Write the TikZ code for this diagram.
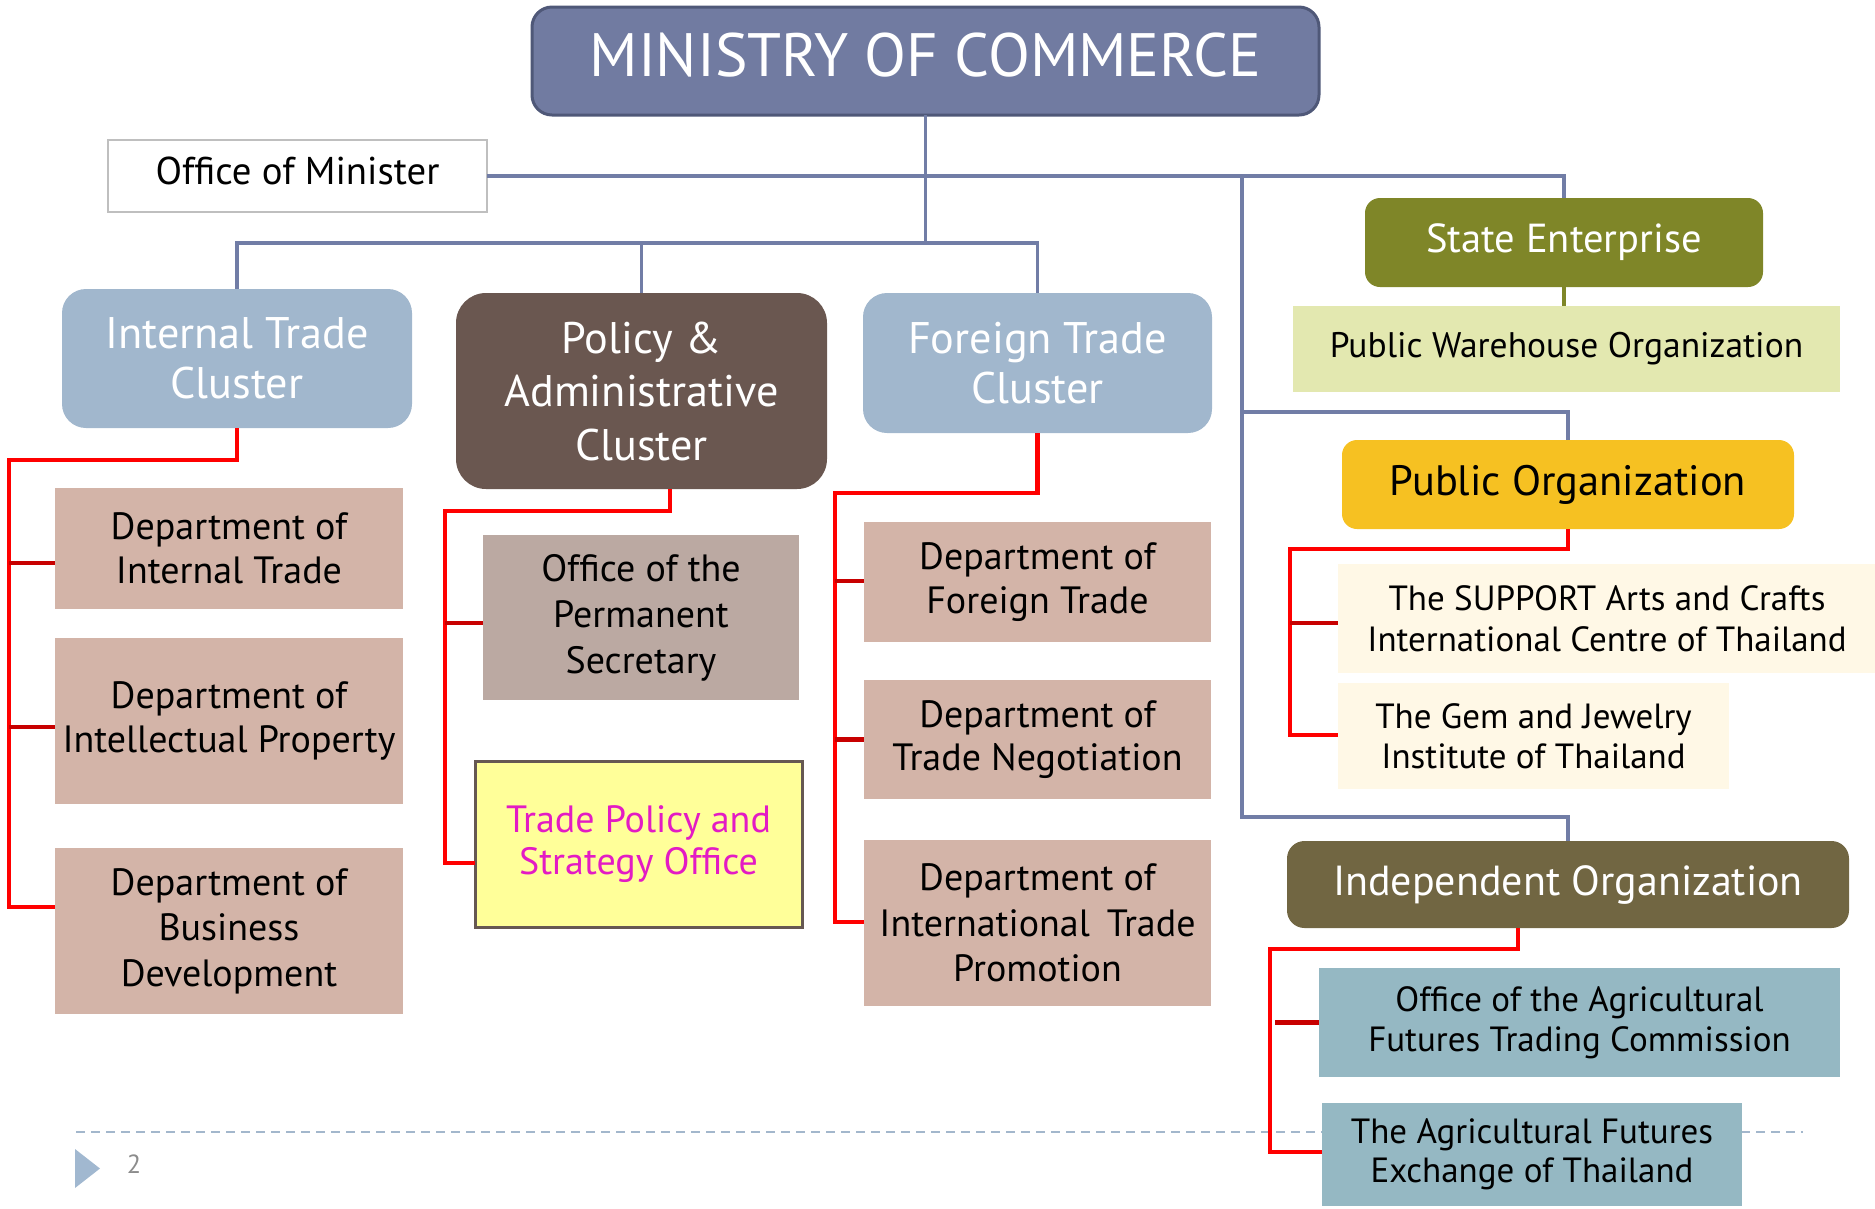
\documentclass[tikz,border=0pt]{standalone}
\usepackage{fontspec}
\setmainfont{PT Sans}
\usetikzlibrary{calc}
\definecolor{minfill}{HTML}{717BA1}
\definecolor{minborder}{HTML}{4F5878}
\definecolor{bluelinec}{HTML}{717DA6}
\definecolor{clusterblue}{HTML}{A1B7CD}
\definecolor{policybrown}{HTML}{6A5750}
\definecolor{deptfill}{HTML}{D3B4A8}
\definecolor{opsfill}{HTML}{BBA9A2}
\definecolor{tpsfill}{HTML}{FFFF99}
\definecolor{tpsborder}{HTML}{665852}
\definecolor{tpstext}{HTML}{E31BC4}
\definecolor{sefill}{HTML}{7F8628}
\definecolor{pwfill}{HTML}{E3E8B0}
\definecolor{pofill}{HTML}{F6C122}
\definecolor{creamfill}{HTML}{FFF8E6}
\definecolor{iofill}{HTML}{716642}
\definecolor{agrifill}{HTML}{95B8C3}
\definecolor{redc}{HTML}{FF0000}
\definecolor{darkredc}{HTML}{C80000}
\definecolor{dashblue}{HTML}{A3B7CC}
\definecolor{tric}{HTML}{A1B8D0}
\definecolor{pagegray}{HTML}{8C8C8C}
\definecolor{omborder}{HTML}{BFBFBF}
\newcommand\bx[7]{\node[#2, minimum width={(#5-#3)*0.4pt}, minimum height={(#6-#4)*0.4pt}] (#1) at ({(#3+#5)/2},{(#4+#6)/2}) {#7};}
\tikzset{
  basebox/.style={inner sep=0pt, outer sep=0pt, align=center},
  minbox/.style={basebox, fill=minfill, draw=minborder, line width=1.2pt, rounded corners=8pt, text=white, text depth=4.8pt, font=\fontsize{24.5}{28}\selectfont},
  ombox/.style={basebox, fill=white, draw=omborder, line width=0.8pt, text depth=4pt, font=\fontsize{15.5}{18}\selectfont},
  clusterbox/.style={basebox, fill=clusterblue, rounded corners=9.6pt, text=white, font=\fontsize{17.7}{20}\selectfont},
  policybox/.style={basebox, fill=policybrown, rounded corners=12pt, text=white, font=\fontsize{17.7}{21.4}\selectfont},
  deptbox/.style={basebox, fill=deptfill, font=\fontsize{15.2}{17.4}\selectfont},
  deptboxtall/.style={deptbox, font=\fontsize{15.2}{18.2}\selectfont},
  opsbox/.style={basebox, fill=opsfill, font=\fontsize{15.2}{18.4}\selectfont},
  tpsbox/.style={basebox, fill=tpsfill, draw=tpsborder, line width=1.2pt, text=tpstext, font=\fontsize{15.2}{17}\selectfont},
  sebox/.style={basebox, fill=sefill, rounded corners=6pt, text=white, font=\fontsize{16.2}{19}\selectfont},
  pwbox/.style={basebox, fill=pwfill, font=\fontsize{14.2}{16}\selectfont},
  pobox/.style={basebox, fill=pofill, rounded corners=6pt, font=\fontsize{17}{20}\selectfont},
  creambox/.style={basebox, fill=creamfill, font=\fontsize{14}{16.2}\selectfont},
  iobox/.style={basebox, fill=iofill, rounded corners=7pt, text=white, font=\fontsize{16.8}{20}\selectfont},
  agribox/.style={basebox, fill=agrifill, font=\fontsize{14}{15.8}\selectfont},
  blueln/.style={draw=bluelinec, line width=1.35pt},
  oliveln/.style={draw=sefill, line width=1.35pt},
  redmain/.style={draw=redc, line width=1.7pt},
  redstub/.style={draw=darkredc, line width=1.7pt},
}
\begin{document}
\begin{tikzpicture}[x=0.4pt, y=-0.4pt]
\useasboundingbox (0,0) rectangle (1875,1208);
% footer dashed rule and page marker
\draw[dashblue, line width=0.8pt, dash pattern=on 3.6pt off 2.4pt] (76,1132) -- (1803,1132);
\fill[tric] (75,1149) -- (100,1168.5) -- (75,1188) -- cycle;
\node[inner sep=0pt, text=pagegray, font=\fontsize{10.5}{12}\selectfont] (pg) at (134,1164) {2};
% boxes
\bx{min}{minbox}{532}{7}{1319}{115}{MINISTRY OF COMMERCE}
\bx{om}{ombox}{108}{140}{487}{212}{Office of Minister}
\bx{it}{clusterbox}{62}{289}{412}{428}{Internal Trade\\Cluster}
\bx{pa}{policybox}{456}{293}{827}{489}{Policy \&\\Administrative\\Cluster}
\bx{ft}{clusterbox}{863}{293}{1212}{433}{Foreign Trade\\Cluster}
\bx{se}{sebox}{1365}{198}{1763}{287}{State Enterprise}
\bx{pw}{pwbox}{1293}{306}{1840}{392}{Public Warehouse Organization}
\bx{po}{pobox}{1342}{440}{1794}{529}{Public Organization}
\bx{sup}{creambox}{1338}{564}{1876}{673}{The SUPPORT Arts and Crafts\\International Centre of Thailand}
\bx{gem}{creambox}{1338}{683}{1729}{789}{The Gem and Jewelry\\Institute of Thailand}
\bx{io}{iobox}{1287}{841}{1849}{928}{Independent Organization}
\bx{ao}{agribox}{1319}{968}{1840}{1077}{Office of the Agricultural\\Futures Trading Commission}
\bx{ae}{agribox}{1322}{1103}{1742}{1206}{The Agricultural Futures\\Exchange of Thailand}
\bx{dit}{deptbox}{55}{488}{403}{609}{Department of\\Internal Trade}
\bx{dip}{deptbox}{55}{638}{403}{804}{Department of\\Intellectual Property}
\bx{dbd}{deptboxtall}{55}{848}{403}{1014}{Department of\\Business\\Development}
\bx{ops}{opsbox}{483}{535}{799}{700}{Office of the\\Permanent\\Secretary}
\bx{tps}{tpsbox}{475}{761}{802}{927}{Trade Policy and\\Strategy Office}
\bx{dft}{deptbox}{864}{522}{1211}{642}{Department of\\Foreign Trade}
\bx{dtn}{deptbox}{864}{680}{1211}{799}{Department of\\Trade Negotiation}
\bx{dtp}{deptboxtall}{864}{840}{1211}{1006}{Department of\\International\hspace{0.45em}Trade\\Promotion}
% blue connectors
\coordinate (hub) at ($(min.south)+(0,128)$);
\draw[blueln] (min.south) -- (hub);
\draw[blueln] (it.north) |- (ft.north |- hub) -- (ft.north);
\draw[blueln] (pa.north) -- (pa.north |- hub);
\draw[blueln] (om.east) -| (se.north);
\coordinate (trunk) at (1242,176);
\coordinate (tpo) at (1242,412);
\coordinate (tio) at (1242,817);
\draw[blueln] (trunk) -- (tio) -| (io.north);
\draw[blueln] (tpo) -| (po.north);
\draw[oliveln] (se.south) -- (se.south |- pw.north);
% red connectors: internal trade
\coordinate (itbus) at (9,460);
\coordinate (itb1) at ($(dit.west)+(0,14.5)$);
\coordinate (itb2) at ($(dip.west)+(0,6)$);
\coordinate (itb3) at ($(dbd.west)+(0,-24)$);
\draw[redmain] (it.south) |- (itbus) |- (itb3);
\draw[redstub] (itbus |- itb1) -- (itb1);
\draw[redstub] (itbus |- itb2) -- (itb2);
% policy
\coordinate (pas) at ($(pa.south)+(28.5,0)$);
\coordinate (pabus) at (445,511);
\coordinate (pab1) at ($(ops.west)+(0,5.5)$);
\coordinate (pab2) at ($(tps.west)+(0,19)$);
\draw[redmain] (pas) |- (pabus) |- (pab2);
\draw[redstub] (pabus |- pab1) -- (pab1);
% foreign trade
\coordinate (ftbus) at (835,493);
\coordinate (ftb1) at ($(dft.west)+(0,-1)$);
\coordinate (ftb3) at ($(dtp.west)+(0,-1)$);
\draw[redmain] (ft.south) |- (ftbus) |- (ftb3);
\draw[redstub] (ftbus |- ftb1) -- (ftb1);
\draw[redstub] (ftbus |- dtn.west) -- (dtn.west);
% public organization
\coordinate (pobus) at (1290,549);
\coordinate (pob1) at ($(sup.west)+(0,4.5)$);
\coordinate (pob2) at ($(gem.west)+(0,-1)$);
\draw[redmain] (po.south) |- (pobus) |- (pob2);
\draw[redstub] (pobus |- pob1) -- (pob1);
% independent organization
\coordinate (ios) at ($(io.south)+(-50,0)$);
\coordinate (iobus) at (1270,949);
\coordinate (iob2) at ($(ae.west)+(0,-2.5)$);
\draw[redmain] (ios) |- (iobus) |- (iob2);
\draw[redstub] ($(iobus |- ao.west)+(5,0)$) -- (ao.west);
\end{tikzpicture}
\end{document}
